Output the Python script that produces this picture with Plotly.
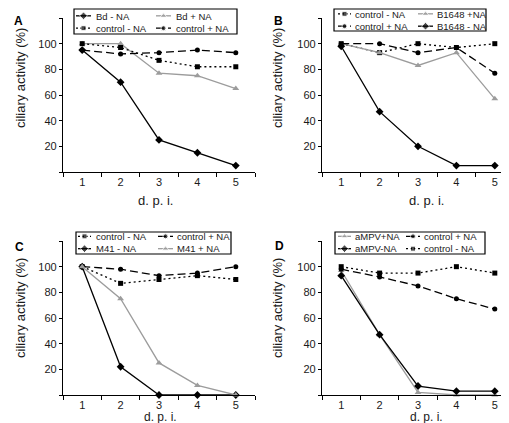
import plotly.graph_objects as go

dpi = [1, 2, 3, 4, 5]

# Panel A
a_bd_minus = [95, 70, 25, 15, 5]
a_bd_plus = [100, 100, 77, 75, 65]
a_ctrl_minus = [100, 97, 87, 82, 82]
a_ctrl_plus = [95, 92, 93, 95, 93]

# Panel B
b_ctrl_minus = [100, 93, 100, 97, 100]
b_ctrl_plus = [100, 100, 93, 97, 77]
b_b1648_plus = [100, 93, 83, 93, 57]
b_b1648_minus = [98, 47, 20, 5, 5]

# Panel C
c_ctrl_minus = [100, 87, 90, 93, 90]
c_ctrl_plus = [100, 98, 93, 95, 100]
c_m41_minus = [100, 22, 0, 0, 0]
c_m41_plus = [100, 75, 25, 7.5, 0]

# Panel D
d_ampv_plus = [97, 47, 2, 0, 0]
d_ampv_minus = [93, 47, 7, 3, 3]
d_ctrl_plus = [98, 92, 85, 75, 67]
d_ctrl_minus = [100, 95, 95, 100, 95]

y_tickvals = [0, 20, 40, 60, 80, 100, 120]
y_ticktext = ["", "20", "40", "60", "80", "100", ""]

GRAY = "#9c9c9c"
FONT = "Liberation Sans, Arial, sans-serif"
TXT = "#1a1a1a"
LEG_SIZE = 9.5
LINE_GAP = LEG_SIZE * 1.3

STY = {
    "bd": dict(color="black", dash="solid", symbol="diamond", msize=6),
    "plus": dict(color=GRAY, dash="solid", symbol="triangle-up", msize=6),
    "cminus": dict(color="black", dash="2px,3px", symbol="square", msize=5),
    "cplus": dict(color="black", dash="8px,4px", symbol="circle", msize=5),
}

W, H = 509, 423
def px(x):
    return x / W
def py(y):
    return 1 - y / H

fig = go.Figure()

# (letter, xaxis, yaxis, x0, x1, ytop, ybottom, series, legend box, legend cols, legend mid-y,
#  letter x, letter y, ytitle x/y, xtitle x/y, xtitle size, tick standoff)
panels = [
    ("A", "x", "y", 55, 247, 10, 164,
     [("Bd - NA", a_bd_minus, "bd", 0, 0), ("Bd + NA", a_bd_plus, "plus", 1, 0),
      ("control - NA", a_ctrl_minus, "cminus", 0, 1), ("control + NA", a_ctrl_plus, "cplus", 1, 1)],
     (66, 229, 1, 26), ((68, 83, 87), (148, 163, 167)), 14, 4, 13,
     (12, 70), (147, 192), 13, None),
    ("B", "x2", "y2", 314, 506, 10, 164,
     [("control - NA", b_ctrl_minus, "cminus", 0, 0), ("B1648 +NA", b_b1648_plus, "plus", 1, 0),
      ("control + NA", b_ctrl_plus, "cplus", 0, 1), ("B1648 - NA", b_b1648_minus, "bd", 1, 1)],
     (326, 478, 1, 23), ((330, 343, 346), (410, 425, 428)), 12, 264, 13,
     (269, 70), (418, 192), 13, None),
    ("C", "x3", "y3", 55, 247, 233, 387,
     [("control - NA", c_ctrl_minus, "cminus", 0, 0), ("control + NA", c_ctrl_plus, "cplus", 1, 0),
      ("M41 - NA", c_m41_minus, "bd", 0, 1), ("M41 + NA", c_m41_plus, "plus", 1, 1)],
     (68, 223, 224, 246), ((70, 83, 87), (150, 165, 168)), 234.5, 5, 239,
     (12, 300), (152, 409), 12, 0),
    ("D", "x4", "y4", 314, 506, 233, 387,
     [("aMPV+NA", d_ampv_plus, "plus", 0, 0), ("control + NA", d_ctrl_plus, "cplus", 1, 0),
      ("aMPV-NA", d_ampv_minus, "bd", 0, 1), ("control - NA", d_ctrl_minus, "cminus", 1, 1)],
     (327, 477, 224, 246), ((330, 343, 346), (398, 412, 415)), 234.5, 265, 238,
     (269, 300), (418, 409), 12, 0),
]

shapes = []
annotations = []
layout_axes = {}

for (lab, xa, ya, x0, x1, yt, yb, series, box, cols, lmid, lx, ly, ytpos, xtpos, xts, tso) in panels:
    col_texts = {0: ["", ""], 1: ["", ""]}
    for (name, data, sty, col, row) in series:
        s = STY[sty]
        fig.add_trace(go.Scatter(
            x=dpi, y=data, name=name, mode="lines+markers",
            line=dict(color=s["color"], width=1.3, dash=s["dash"]),
            marker=dict(symbol=s["symbol"], size=s["msize"], color=s["color"]),
            xaxis=xa, yaxis=ya, cliponaxis=False, showlegend=False,
        ))
        # legend key drawn on the full-page overlay axis (pixel units)
        ca, cb, ct = cols[col]
        ry = lmid + (row - 0.5) * LINE_GAP
        fig.add_trace(go.Scatter(
            x=[ca, (ca + cb) / 2, cb], y=[ry, ry, ry], mode="lines+markers",
            line=dict(color=s["color"], width=1.3, dash=s["dash"] if sty != "cminus" else "2px,2px"),
            marker=dict(symbol=s["symbol"], size=[0, s["msize"], 0], color=s["color"]),
            xaxis="x5", yaxis="y5", showlegend=False, hoverinfo="skip", cliponaxis=False,
        ))
        col_texts[col][row] = name
    for col in (0, 1):
        annotations.append(dict(text="<br>".join(col_texts[col]), xref="paper", yref="paper",
                                x=px(cols[col][2]), y=py(lmid), xanchor="left", yanchor="middle",
                                align="left", showarrow=False, borderpad=0,
                                font=dict(family=FONT, size=LEG_SIZE, color=TXT)))
    shapes.append(dict(type="rect", xref="paper", yref="paper",
                       x0=px(box[0]), x1=px(box[1]), y0=py(box[3]), y1=py(box[2]),
                       line=dict(color="black", width=1.2), fillcolor="rgba(0,0,0,0)"))
    annotations.append(dict(text=f"<b>{lab}</b>", xref="paper", yref="paper",
                            x=px(lx), y=py(ly), xanchor="left", yanchor="middle",
                            showarrow=False, font=dict(family=FONT, size=12, color="black")))
    annotations.append(dict(text="ciliary activity (%)", xref="paper", yref="paper",
                            x=px(ytpos[0]), y=py(ytpos[1]), xanchor="center", yanchor="middle",
                            textangle=-90, showarrow=False,
                            font=dict(family=FONT, size=13, color=TXT)))
    annotations.append(dict(text="d. p. i.", xref="paper", yref="paper",
                            x=px(xtpos[0]), y=py(xtpos[1]), xanchor="center", yanchor="middle",
                            showarrow=False, font=dict(family=FONT, size=xts, color=TXT)))

    xkey = "xaxis" if xa == "x" else "xaxis" + xa[1:]
    ykey = "yaxis" if ya == "y" else "yaxis" + ya[1:]
    xax = dict(
        domain=[px(x0), px(x1)], range=[0.5, 5.5], anchor=ya,
        tickvals=dpi, ticktext=[str(v) for v in dpi], ticks="",
        showline=True, linecolor="black", linewidth=1.3,
        showgrid=False, zeroline=False, fixedrange=True,
        tickfont=dict(family=FONT, size=11, color=TXT),
        minor=dict(tickvals=[0.5, 1.5, 2.5, 3.5, 4.5, 5.5], ticks="outside",
                   ticklen=4, tickcolor="black", tickwidth=1, showgrid=False))
    if tso is not None:
        xax["ticklabelstandoff"] = tso
    layout_axes[xkey] = xax
    layout_axes[ykey] = dict(
        domain=[py(yb), py(yt)], range=[0, 120], anchor=xa,
        tickvals=y_tickvals, ticktext=y_ticktext, ticks="outside",
        ticklen=3, tickcolor="black", tickwidth=1,
        showline=True, linecolor="black", linewidth=1.3,
        showgrid=False, zeroline=False, fixedrange=True,
        tickfont=dict(family=FONT, size=11, color=TXT))

layout_axes["xaxis5"] = dict(domain=[0, 1], range=[0, W], visible=False, fixedrange=True, anchor="y5")
layout_axes["yaxis5"] = dict(domain=[0, 1], range=[H, 0], visible=False, fixedrange=True, anchor="x5")

fig.update_layout(
    width=W, height=H, margin=dict(l=0, r=0, t=0, b=0),
    paper_bgcolor="white", plot_bgcolor="rgba(0,0,0,0)",
    showlegend=False, shapes=shapes, annotations=annotations,
    **layout_axes,
)

fig.write_html("out.html")
